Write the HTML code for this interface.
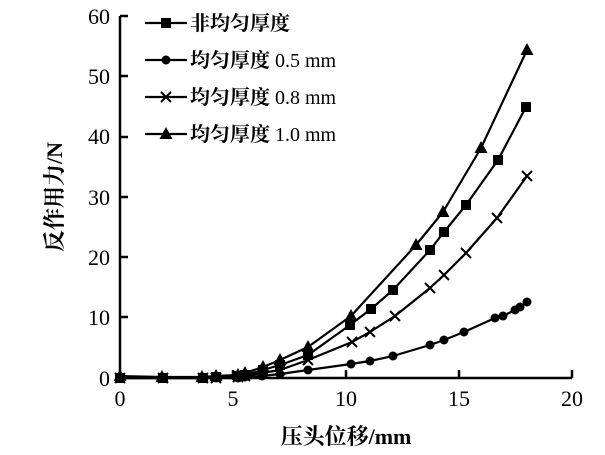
<!DOCTYPE html>
<html><head><meta charset="utf-8"><style>body{margin:0;background:#fff}svg{display:block}</style></head><body>
<svg width="605" height="455" xmlns="http://www.w3.org/2000/svg" font-family="'Liberation Serif','Noto Serif CJK SC',serif">
<defs>
<rect id="sq" x="-5" y="-5" width="10" height="10" fill="#000"/>
<circle id="ci" r="4.5" fill="#000"/>
<path id="xx" d="M-5,-5L5,5M-5,5L5,-5" stroke="#000" stroke-width="2"/>
<path id="tr" d="M0,-7L6.5,5L-6.5,5Z" fill="#000"/>
</defs>
<g stroke="#000" stroke-width="2.5" fill="none">
<path d="M120,16V378H572"/>
<path d="M120,16h8M120,76h8M120,137h8M120,197h8M120,257h8M120,317h8"/>
<path d="M233,378v-8M346,378v-8M459,378v-8M572,378v-8"/>
</g>
<g font-size="22" text-anchor="end">
<text x="110" y="24">60</text><text x="110" y="84">50</text><text x="110" y="144">40</text><text x="110" y="205">30</text><text x="110" y="265">20</text><text x="110" y="325">10</text><text x="110" y="386">0</text>
</g>
<g font-size="22" text-anchor="middle">
<text x="120" y="406">0</text><text x="233" y="406">5</text><text x="346" y="406">10</text><text x="459" y="406">15</text><text x="572" y="406">20</text>
</g>
<text x="346" y="444" font-size="22" font-weight="bold" text-anchor="middle">压头位移/mm</text>
<text transform="translate(62,197) rotate(-90)" font-size="22" font-weight="bold" text-anchor="middle">反作用力/N</text>
<g stroke="#000" stroke-width="2.2" fill="none" stroke-linejoin="round">
<polyline points="120,378 163,378 203,378 216,377 238,376 245,375 263,370 280,365 308,355 350,325 371,309 393,290 430,250 444,232 466,205 498,160 526,107"/>
<polyline points="120,378 163,378 203,378 216,378 238,378 245,377 262,376 280,374 308,370 351,364 370,361 393,356 430,345 444,340 464,332 495,318 503,316 515,310 520,307 527,302"/>
<polyline points="120,378 163,378 203,378 216,378 238,377 245,376 262,373 280,370 308,360 352,342 370,332 395,316 430,288 444,275 466,253 497,218 527,176"/>
<polyline points="120,376 162,377 202,377 216,376 238,375 245,373 263,367 280,360 308,347 351,316 416,245 443,212 481,148 527,50"/>
<path d="M145,23h42M145,60h42M145,97h42M145,134h42"/>
</g>
<g>
<use href="#sq" x="120" y="378"/><use href="#sq" x="163" y="378"/><use href="#sq" x="203" y="378"/><use href="#sq" x="216" y="377"/><use href="#sq" x="238" y="376"/><use href="#sq" x="245" y="375"/><use href="#sq" x="263" y="370"/><use href="#sq" x="280" y="365"/><use href="#sq" x="308" y="355"/><use href="#sq" x="350" y="325"/><use href="#sq" x="371" y="309"/><use href="#sq" x="393" y="290"/><use href="#sq" x="430" y="250"/><use href="#sq" x="444" y="232"/><use href="#sq" x="466" y="205"/><use href="#sq" x="498" y="160"/><use href="#sq" x="526" y="107"/>
<use href="#ci" x="120" y="378"/><use href="#ci" x="163" y="378"/><use href="#ci" x="203" y="378"/><use href="#ci" x="216" y="378"/><use href="#ci" x="238" y="378"/><use href="#ci" x="245" y="377"/><use href="#ci" x="262" y="376"/><use href="#ci" x="280" y="374"/><use href="#ci" x="308" y="370"/><use href="#ci" x="351" y="364"/><use href="#ci" x="370" y="361"/><use href="#ci" x="393" y="356"/><use href="#ci" x="430" y="345"/><use href="#ci" x="444" y="340"/><use href="#ci" x="464" y="332"/><use href="#ci" x="495" y="318"/><use href="#ci" x="503" y="316"/><use href="#ci" x="515" y="310"/><use href="#ci" x="520" y="307"/><use href="#ci" x="527" y="302"/>
<use href="#xx" x="120" y="378"/><use href="#xx" x="163" y="378"/><use href="#xx" x="203" y="378"/><use href="#xx" x="216" y="378"/><use href="#xx" x="238" y="377"/><use href="#xx" x="245" y="376"/><use href="#xx" x="262" y="373"/><use href="#xx" x="280" y="370"/><use href="#xx" x="308" y="360"/><use href="#xx" x="352" y="342"/><use href="#xx" x="370" y="332"/><use href="#xx" x="395" y="316"/><use href="#xx" x="430" y="288"/><use href="#xx" x="444" y="275"/><use href="#xx" x="466" y="253"/><use href="#xx" x="497" y="218"/><use href="#xx" x="527" y="176"/>
<use href="#tr" x="120" y="376"/><use href="#tr" x="162" y="377"/><use href="#tr" x="202" y="377"/><use href="#tr" x="216" y="376"/><use href="#tr" x="238" y="375"/><use href="#tr" x="245" y="373"/><use href="#tr" x="263" y="367"/><use href="#tr" x="280" y="360"/><use href="#tr" x="308" y="347"/><use href="#tr" x="351" y="316"/><use href="#tr" x="416" y="245"/><use href="#tr" x="443" y="212"/><use href="#tr" x="481" y="148"/><use href="#tr" x="527" y="50"/>
<use href="#sq" x="166" y="23"/><use href="#ci" x="166" y="60"/><use href="#xx" x="166" y="97"/><use href="#tr" x="166" y="134"/>
</g>
<g font-size="20">
<text x="190" y="30" font-weight="bold">非均匀厚度</text>
<text x="190" y="67"><tspan font-weight="bold">均匀厚度</tspan> 0.5 mm</text>
<text x="190" y="104"><tspan font-weight="bold">均匀厚度</tspan> 0.8 mm</text>
<text x="190" y="141"><tspan font-weight="bold">均匀厚度</tspan> 1.0 mm</text>
</g>
</svg>
</body></html>
